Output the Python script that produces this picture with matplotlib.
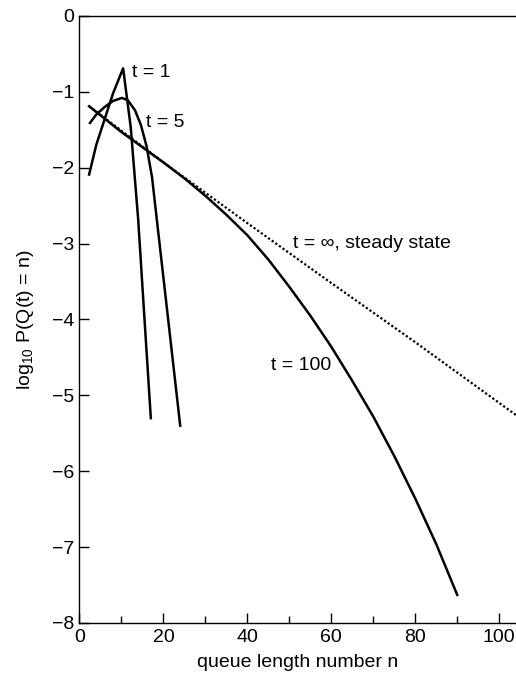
import matplotlib.pyplot as plt

plt.rcParams['font.family'] = ['Liberation Sans', 'DejaVu Sans']
plt.rcParams['mathtext.fontset'] = 'custom'
plt.rcParams['mathtext.rm'] = 'Liberation Sans'

# values (n, log10 P)
n_t1 = [2.3, 4, 6, 8, 10.4, 12.2, 14.0, 15.2, 17.0]
p_t1 = [-2.09, -1.70, -1.36, -1.02, -0.69, -1.46, -2.69, -3.74, -5.30]

n_t5 = [2.5, 4, 6, 8, 10.1, 11.5, 13.2, 14.6, 16.0, 17.3, 18.4, 20.6, 24.0]
p_t5 = [-1.41, -1.30, -1.20, -1.12, -1.08, -1.11, -1.24, -1.43, -1.72, -2.13,
        -2.67, -3.74, -5.40]

n_t100 = [2.3, 10, 20, 25, 30, 35, 40, 45, 50, 55, 60, 65, 70, 75, 80, 85, 90]
p_t100 = [-1.19, -1.53, -1.93, -2.14, -2.37, -2.62, -2.89, -3.21, -3.57, -3.95,
          -4.36, -4.81, -5.28, -5.80, -6.36, -6.96, -7.63]

n_ss = [2.3, 20, 40, 60, 80, 104]
p_ss = [-1.19, -1.93, -2.73, -3.52, -4.30, -5.26]

fig = plt.figure(figsize=(5.16, 6.79), dpi=100)
ax = fig.add_axes([0.154, 0.0825, 0.846, 0.894])

ax.plot(n_ss, p_ss, color='black', lw=1.6, linestyle=(0, (1, 1.0)))
ax.plot(n_t100, p_t100, color='black', lw=1.8)
ax.plot(n_t1, p_t1, color='black', lw=1.8)
ax.plot(n_t5, p_t5, color='black', lw=1.8)

fs = 14
ax.text(12.4, -0.75, 't = 1', fontsize=fs, va='center', ha='left')
ax.text(15.9, -1.41, 't = 5', fontsize=fs, va='center', ha='left')
ax.text(50.8, -3.0, 't = \u221e, steady state', fontsize=fs, va='center', ha='left')
ax.text(60.1, -4.61, 't = 100', fontsize=fs, va='center', ha='right')

ax.set_xlim(0, 104)
ax.set_ylim(-8, 0)
ax.set_xticks([0, 20, 40, 60, 80, 100])
ax.set_xticks([10, 30, 50, 70, 90], minor=True)
ax.set_yticks(range(-8, 1))

ax.spines['right'].set_visible(False)
for s in ['left', 'bottom', 'top']:
    ax.spines[s].set_linewidth(1.0)

ax.tick_params(axis='both', which='major', direction='in', length=7, width=1.0,
               labelsize=fs, pad=4)
ax.tick_params(axis='x', which='minor', direction='in', length=5, width=1.0)

ax.set_xlabel('queue length number n', fontsize=fs, labelpad=6)
ax.set_ylabel('log$_{10}$ P(Q(t) = n)', fontsize=fs, labelpad=11)

fig.savefig('out.png', dpi=100)
